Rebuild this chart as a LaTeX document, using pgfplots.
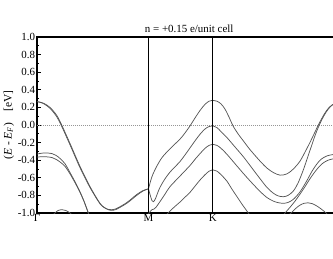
\documentclass[border=0pt]{standalone}
\usepackage{pgfplots}
\pgfplotsset{compat=1.18}
\usepackage{fontspec}
\setmainfont{Liberation Serif}
\definecolor{bandgray}{RGB}{85,85,85}
\definecolor{dotgray}{RGB}{150,150,150}
\begin{document}
\begin{tikzpicture}
\useasboundingbox (-27.75pt,-33.75pt) rectangle (222pt,159.75pt);
\begin{axis}[
  at={(0pt,0pt)}, anchor=south west,
  scale only axis, width=228.3pt, height=132pt,
  xmin=0, xmax=304.4, ymin=-1, ymax=1,
  axis line style={line width=1.05pt, black},
  xtick={0,111.5,175.7},
  xticklabels={Γ,M,K},
  xtick style={draw=none},
  xticklabel style={inner sep=1pt},
  ytick={-1,-0.8,-0.6,-0.4,-0.2,0,0.2,0.4,0.6,0.8,1},
  minor y tick num=1,
  ytick pos=left,
  major tick length=3pt, minor tick length=1.8pt,
  ytick style={black, line width=0.6pt},
  yticklabel style={inner sep=1.2pt, /pgf/number format/.cd, fixed, fixed zerofill, precision=1, assume math mode=true},
  ticklabel style={font=\fontsize{8.2}{9}\selectfont},
  every axis title shift=0pt,
  title={n = +0.15 e/unit cell},
  title style={at={(0.5,1)}, anchor=base, yshift=3.4pt, inner sep=0pt, font=\fontsize{8.2}{9}\selectfont},
  ylabel={(\textit{E} - \textit{E}\textsubscript{\textit{F}})\quad[eV]},
  ylabel style={at={(axis description cs:-0.0925,0.5)}, anchor=center, font=\fontsize{8.6}{10}\selectfont},
  band/.style={color=bandgray, line width=0.55pt, smooth, tension=0.5},
]
% Fermi level
\addplot[dotgray, densely dotted, line width=0.5pt] coordinates {(0,0) (304.4,0)};
% Band 1
\addplot[band] coordinates {(0,0.265)(3,0.26)(7,0.245)(13,0.20)(19.7,0.11)(24.7,0.0)(33,-0.21)(43,-0.47)(53,-0.70)(63,-0.89)(69,-0.95)(74,-0.97)(79,-0.96)(89.7,-0.89)(99.7,-0.80)(106,-0.75)(111.5,-0.725)};
\addplot[band] coordinates {(111.5,-0.725)(113.5,-0.64)(115.5,-0.57)(119.7,-0.47)(125,-0.37)(133,-0.27)(143,-0.16)(148,-0.09)(153,-0.01)(158,0.08)(163,0.165)(168,0.235)(172,0.27)(175.7,0.28)};
\addplot[band] coordinates {(175.7,0.28)(180,0.27)(184,0.24)(188,0.18)(192,0.09)(196,-0.01)(201,-0.10)(206.3,-0.18)(213,-0.28)(223,-0.41)(230,-0.49)(236.3,-0.54)(243,-0.57)(250,-0.555)(256.3,-0.50)(263,-0.41)(269.7,-0.27)(275,-0.15)(281.3,0.0)(287,0.12)(291,0.185)(294.7,0.225)(298,0.248)(301,0.258)(304.4,0.262)};
% Band 2
\addplot[band] coordinates {(0,0.265)(3,0.258)(7,0.24)(13,0.19)(19.7,0.095)(24.7,-0.015)(33,-0.225)(43,-0.485)(53,-0.71)(63,-0.895)(69,-0.95)(74,-0.962)(79,-0.952)(89.7,-0.882)(99.7,-0.79)(106,-0.745)(111.5,-0.725)};
\addplot[band] coordinates {(111.5,-0.725)(113,-0.79)(115,-0.86)(116.5,-0.872)(118.5,-0.835)(122.5,-0.72)(127.5,-0.62)(133,-0.535)(138,-0.475)(143,-0.415)(148,-0.34)(153,-0.26)(158,-0.18)(163,-0.105)(168,-0.045)(172,-0.018)(175.7,-0.01)};
\addplot[band] coordinates {(175.7,-0.01)(180,-0.03)(184,-0.075)(189.7,-0.14)(198,-0.25)(206.3,-0.36)(213,-0.46)(223,-0.61)(230,-0.71)(236.3,-0.775)(241,-0.805)(246.3,-0.815)(251,-0.80)(256.3,-0.75)(261,-0.66)(266.3,-0.51)(270.5,-0.37)(274.7,-0.23)(278,-0.12)(281.3,-0.025)(285,0.065)(289,0.145)(293,0.205)(297,0.24)(301,0.255)(304.4,0.262)};
% Band 3
\addplot[band] coordinates {(111.5,-1.01)(113,-0.985)(115,-0.962)(117,-0.955)(119,-0.935)(123,-0.87)(128,-0.785)(133,-0.70)(143,-0.58)(153,-0.46)(158,-0.39)(163,-0.325)(168,-0.265)(172,-0.232)(175.7,-0.22)};
\addplot[band] coordinates {(175.7,-0.22)(180,-0.232)(184,-0.265)(189.7,-0.33)(198,-0.44)(206.3,-0.55)(213,-0.635)(223,-0.755)(230,-0.825)(236.3,-0.865)(241,-0.882)(246.3,-0.89)(251,-0.88)(256.3,-0.845)(263,-0.76)(269.7,-0.635)(275,-0.525)(279.7,-0.445)(284,-0.39)(289.7,-0.352)(296,-0.336)(304.4,-0.33)};
% Band 4
\addplot[band] coordinates {(129,-1.03)(131,-1.0)(137,-0.935)(143,-0.875)(148,-0.82)(153,-0.765)(158,-0.695)(163,-0.625)(168,-0.565)(172,-0.525)(175.7,-0.51)};
\addplot[band] coordinates {(175.7,-0.51)(180,-0.525)(184,-0.565)(189.7,-0.635)(195,-0.73)(199.7,-0.81)(205,-0.90)(211.3,-1.0)(213,-1.03)};
% Band 5
\addplot[band] coordinates {(246,-1.03)(248,-1.0)(253,-0.935)(258,-0.865)(263,-0.785)(268,-0.70)(273,-0.61)(278,-0.53)(282,-0.475)(286,-0.432)(291,-0.40)(296,-0.385)(304.4,-0.37)};
% Lower bands at Gamma
\addplot[band] coordinates {(0,-0.33)(5,-0.32)(10,-0.318)(15,-0.325)(19,-0.345)(23,-0.38)(28,-0.44)(33,-0.54)(38,-0.645)(43,-0.76)(47,-0.865)(51.3,-1.0)(52,-1.03)};
\addplot[band] coordinates {(0,-0.365)(5,-0.36)(10,-0.362)(15,-0.37)(19,-0.39)(23,-0.42)(28,-0.47)(33,-0.555)(38,-0.655)(43,-0.765)(47,-0.868)(51.3,-1.0)(52,-1.03)};
% Humps near bottom
\addplot[band] coordinates {(16,-1.02)(18,-1.0)(21,-0.972)(25,-0.962)(29,-0.972)(33,-1.0)(35,-1.02)};
\addplot[band] coordinates {(251,-1.03)(254,-1.0)(259,-0.945)(263,-0.91)(267,-0.89)(271,-0.884)(275,-0.893)(279,-0.915)(283,-0.945)(287,-0.98)(290,-1.01)};
% high-symmetry lines
\addplot[black, line width=0.95pt] coordinates {(111.5,-1) (111.5,1)};
\addplot[black, line width=0.95pt] coordinates {(175.7,-1) (175.7,1)};
\end{axis}
\end{tikzpicture}
\end{document}
